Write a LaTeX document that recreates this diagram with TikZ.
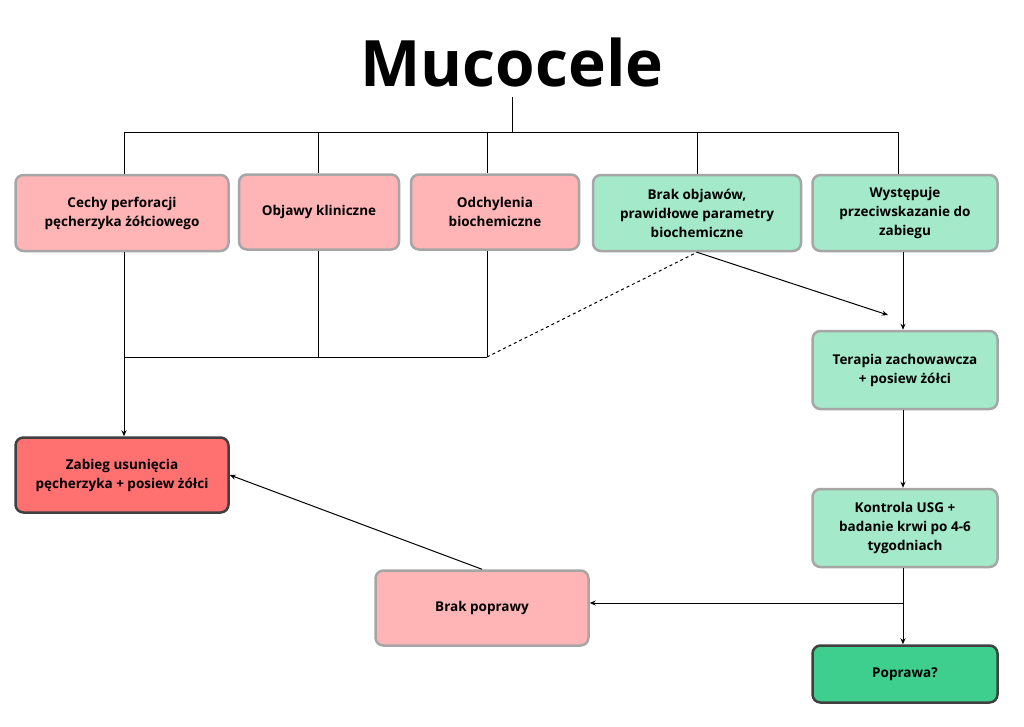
\documentclass[tikz,border=0pt]{standalone}
\usepackage{fontspec}
\setmainfont{Open Sans}
\usetikzlibrary{positioning,arrows.meta}

\definecolor{pinkbox}{HTML}{FFB5B5}
\definecolor{greenbox}{HTML}{A3E9CA}
\definecolor{redbox}{HTML}{FF7070}
\definecolor{darkgreen}{HTML}{3ECF8E}
\definecolor{edgegray}{HTML}{A6A6A6}

\begin{document}
\begin{tikzpicture}[x=1pt, y=-1pt,
    box/.style={rectangle, rounded corners=8pt, draw=edgegray, line width=2.5pt,
        align=center, font=\bfseries\fontsize{13.5}{19}\selectfont, inner sep=2pt},
    bad/.style={box, fill=pinkbox},
    good/.style={box, fill=greenbox},
    line/.style={line width=1pt, black},
    arr/.style={line, -{Stealth[length=6pt,width=5pt]}}
]
\useasboundingbox (0,0) rectangle (1024,726);
\fill[white] (0,0) rectangle (1024,726);

\node (title) at (512,62) {\fontsize{64}{70}\selectfont\bfseries Mucocele};

\node (perforacja) [bad, minimum width=213pt, minimum height=76pt] at (122,213)
    {Cechy perforacji\\pęcherzyka żółciowego};
\node (objawy) [bad, minimum width=160pt, minimum height=75pt] at (319,212)
    {Objawy kliniczne};
\node (odchylenia) [bad, minimum width=168pt, minimum height=75pt] at (495,212)
    {Odchylenia\\biochemiczne};
\node (brak) [good, minimum width=208pt, minimum height=76pt] at (697,213)
    {Brak objawów,\\prawidłowe parametry\\biochemiczne};
\node (przeciw) [good, minimum width=185pt, minimum height=76pt] at (905,213)
    {Występuje\\przeciwskazanie do\\zabiegu};
\node (terapia) [good, minimum width=185pt, minimum height=78pt] at (905,370)
    {Terapia zachowawcza\\+ posiew żółci};
\node (kontrola) [good, minimum width=185pt, minimum height=78pt] at (905,528)
    {Kontrola USG +\\badanie krwi po 4-6\\tygodniach};
\node (poprawa) [box, fill=darkgreen, draw=black!75, minimum width=185pt, minimum height=57pt] at (905,674)
    {Poprawa?};
\node (brakpoprawy) [bad, minimum width=213pt, minimum height=75pt] at (482,608)
    {Brak poprawy};
\node (zabieg) [box, fill=redbox, draw=black!75, minimum width=213pt, minimum height=75pt] at (122,475)
    {Zabieg usunięcia\\pęcherzyka + posiew żółci};

% top distribution
\coordinate (top) at (512,132);
\draw[line] (512,97) -- (top);
\draw[line] (124,132) -- (898,132);
\draw[line] (124,132) -- (perforacja.north -| 124,0);
\draw[line] (318,132) -- (objawy.north -| 318,0);
\draw[line] (487,132) -- (odchylenia.north -| 487,0);
\draw[line] (697,132) -- (brak.north);
\draw[line] (898,132) -- (przeciw.north -| 898,0);

% collecting line on the left
\coordinate (joinA) at (124,357);
\coordinate (joinB) at (318,357);
\coordinate (joinC) at (487,357);
\draw[line] (perforacja.south -| 124,0) -- (joinA);
\draw[line] (objawy.south -| 318,0) -- (joinB);
\draw[line] (odchylenia.south -| 487,0) -- (joinC);
\draw[line] (joinA) -- (joinC);
\draw[line, dashed] (joinC) -- (brak.south);
\draw[arr] (joinA) -- (zabieg.north -| 124,0);

% right column
\draw[arr] (brak.south) -- (888,315);
\draw[arr] (przeciw.south -| 903,0) -- (terapia.north -| 903,0);
\draw[arr] (terapia.south -| 903,0) -- (kontrola.north -| 903,0);
\coordinate (split) at (903,603);
\draw[arr] (kontrola.south -| 903,0) -- (poprawa.north -| 903,0);
\draw[arr] (split) -- (brakpoprawy.east |- split);
\draw[arr] (brakpoprawy.north) -- (zabieg.east);
\end{tikzpicture}
\end{document}
